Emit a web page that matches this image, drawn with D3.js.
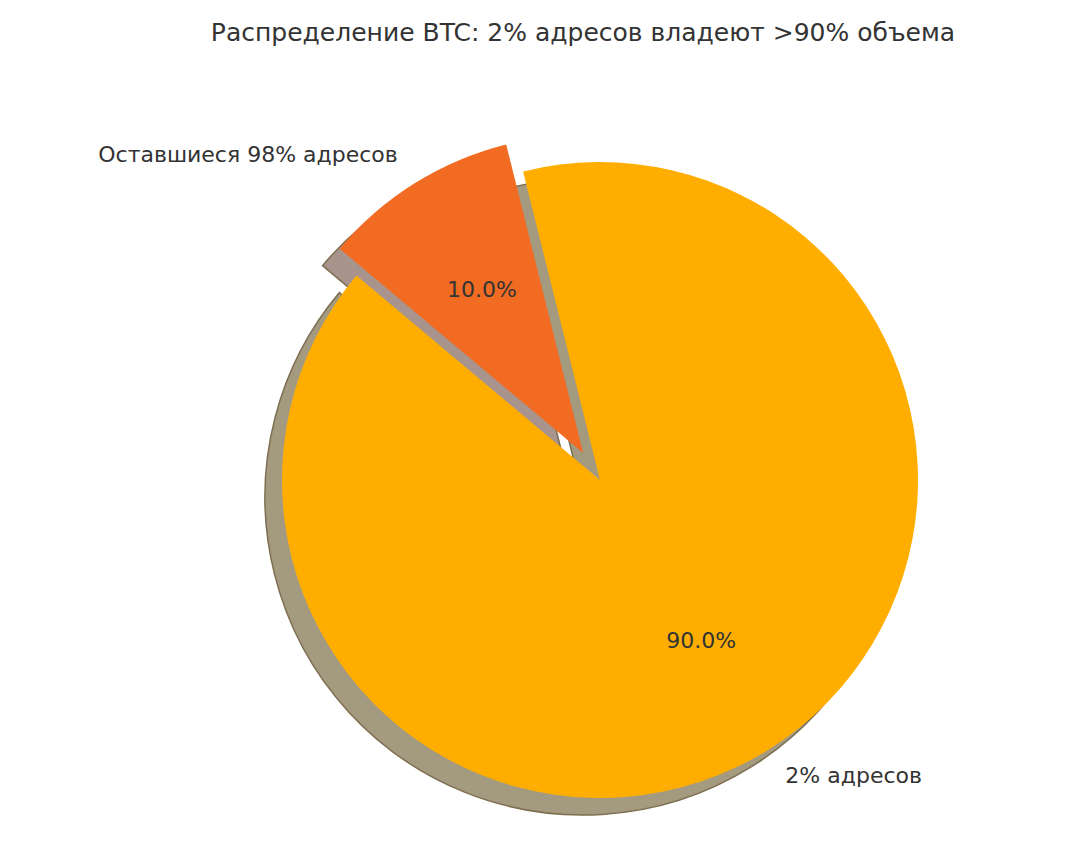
<!DOCTYPE html>
<html><head><meta charset="utf-8">
<script src="https://cdn.jsdelivr.net/npm/d3@7"></script>
<style>body{margin:0;background:#fff}text{font-family:"DejaVu Sans",sans-serif;fill:#333}</style>
</head><body>
<svg id="chart" width="1092" height="868"></svg>
<script>
const labels = ["2% адресов", "Оставшиеся 98% адресов"];
const values = [90, 10];
const colors = ["#ffae00", "#f26b22"];
const explode = [0, 0.1];

const svg = d3.select("#chart");
const cx = 600, cy = 480, R = 318;

svg.append("text").attr("x", 583).attr("y", 41)
    .attr("text-anchor", "middle").attr("font-size", 25)
    .text("Распределение BTC: 2% адресов владеют >90% объема");

// startangle 140 (ccw from east) -> d3 clockwise from north
const deg = Math.PI / 180;
const pie = d3.pie().sort(null).startAngle(-50 * deg).endAngle(-410 * deg);
const arcs = pie(values);
const arc = d3.arc().innerRadius(0).outerRadius(R);

function offset(d, i) {
    const m = (d.startAngle + d.endAngle) / 2;
    return [Math.sin(m) * explode[i] * R, -Math.cos(m) * explode[i] * R];
}

const g = svg.append("g").attr("transform", `translate(${cx},${cy})`);

// shadows
g.selectAll("path.shadow").data(arcs).join("path")
    .attr("class", "shadow")
    .attr("d", arc)
    .attr("transform", (d, i) => { const o = offset(d, i); return `translate(${o[0] - 17},${o[1] + 17})`; })
    .attr("fill", (d, i) => i === 0 ? "#a49a7f" : "#a8948c")
    .attr("stroke", "#7e6e50").attr("stroke-width", 1.5);

g.selectAll("path.slice").data(arcs).join("path")
    .attr("class", "slice")
    .attr("d", arc)
    .attr("transform", (d, i) => { const o = offset(d, i); return `translate(${o[0]},${o[1]})`; })
    .attr("fill", (d, i) => colors[i]);

// labels
arcs.forEach((d, i) => {
    const m = (d.startAngle + d.endAngle) / 2;
    const o = offset(d, i);
    const sx = Math.sin(m), sy = -Math.cos(m);
    g.append("text")
        .attr("x", o[0] + sx * R * 1.1).attr("y", o[1] + sy * R * 1.1)
        .attr("text-anchor", sx > 0 ? "start" : "end")
        .attr("dominant-baseline", "middle").attr("font-size", 22)
        .text(labels[i]);
    g.append("text")
        .attr("x", o[0] + sx * R * 0.6).attr("y", o[1] + sy * R * 0.6)
        .attr("text-anchor", "middle")
        .attr("dominant-baseline", "middle").attr("font-size", 22)
        .text(d3.format(".1f")(values[i] / d3.sum(values) * 100) + "%");
});
</script>
</body></html>
